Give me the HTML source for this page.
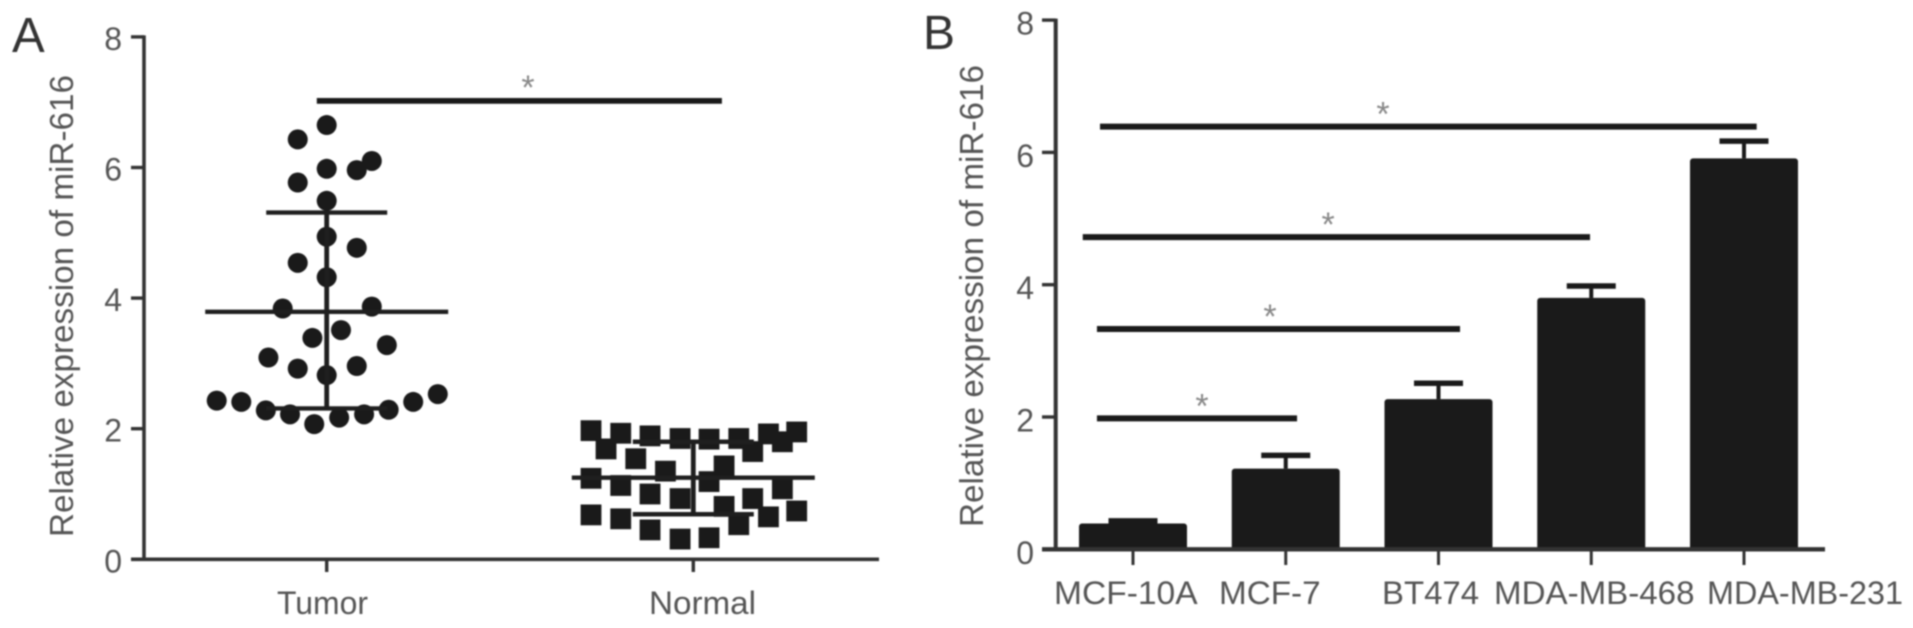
<!DOCTYPE html>
<html lang="en">
<head>
<meta charset="utf-8">
<title>Relative expression of miR-616</title>
<style>
html,body{margin:0;padding:0;background:#fff;width:1913px;height:628px;overflow:hidden}
svg{display:block;filter:blur(0.75px)}
text{font-family:"Liberation Sans",sans-serif;fill:#555}
</style>
</head>
<body>
<svg id="chart" xmlns="http://www.w3.org/2000/svg" width="1913" height="628" viewBox="0 0 1913 628">
  <rect x="0" y="0" width="1913" height="628" fill="#fff"/>
  <text x="12" y="52" font-size="49" style="fill:#333">A</text>
  <text x="923" y="49" font-size="48" style="fill:#333">B</text>
  <text transform="translate(73,306) rotate(-90)" text-anchor="middle" font-size="33" textLength="462" lengthAdjust="spacingAndGlyphs">Relative expression of miR-616</text>
  <text transform="translate(983,296) rotate(-90)" text-anchor="middle" font-size="33" textLength="462" lengthAdjust="spacingAndGlyphs">Relative expression of miR-616</text>
  <g id="panelA"></g>
  <g id="panelB"></g>
</svg>
<script>
// ---------- Panel A data ----------
const yTicksA = [0, 2, 4, 6, 8];
const groupsA = ['Tumor', 'Normal'];
const tumorValues = [6.65,6.43,5.98,5.96,6.10,5.77,5.49,4.94,4.77,4.54,4.32,3.84,3.87,3.51,3.39,3.28,3.09,2.92,2.96,2.82,2.43,2.41,2.28,2.22,2.07,2.17,2.22,2.29,2.41,2.53];
const tumorJitter = [0,-0.079,0,0.082,0.123,-0.079,0,0,0.082,-0.079,0,-0.120,0.123,0.039,-0.039,0.164,-0.159,-0.079,0.082,0,-0.300,-0.233,-0.166,-0.100,-0.034,0.034,0.102,0.169,0.236,0.303];
const normalValues = [1.97,1.93,1.89,1.85,1.84,1.85,1.92,1.95,1.69,1.54,1.65,1.80,1.43,1.35,1.24,1.13,1.19,1.00,0.93,1.08,0.93,0.81,0.68,0.62,0.74,0.65,0.53,0.45,0.31,0.33];
const normalJitter = [-0.279,-0.198,-0.118,-0.036,0.043,0.124,0.205,0.282,-0.238,-0.157,0.162,0.243,0.084,-0.076,-0.279,-0.198,0.043,-0.118,-0.036,0.243,0.162,0.084,-0.279,-0.198,0.282,0.205,0.124,-0.118,-0.036,0.043];
const meansA = [3.79, 1.25];
const sdUpperA = [5.31, 1.80];
const sdLowerA = [2.31, 0.69];

// ---------- Panel B data ----------
const yTicksB = [0, 2, 4, 6, 8];
const cellLines = ['MCF-10A', 'MCF-7', 'BT474', 'MDA-MB-468', 'MDA-MB-231'];
const barValues = [0.39, 1.22, 2.27, 3.80, 5.91];
const errorTops = [0.43, 1.42, 2.51, 3.98, 6.17];
const sigLevelsB = [1.98, 3.33, 4.72, 6.39];
const sigStartB = [0.764, 0.764, 0.671, 0.784];
const sigEndB = [2.074, 3.141, 3.992, 5.083];
const sigStarB = [1.452, 1.897, 2.277, 2.637];

const svgNS = 'http://www.w3.org/2000/svg';
const panelA = document.getElementById('panelA');
const panelB = document.getElementById('panelB');

// axis functions
const yA = v => 559.3 - 65.3 * v;
const xA = c => 326.7 + 366.6 * (c - 1);
const yB = v => 549.3 - 66.15 * v;
const xB = c => 1133 + 152.75 * (c - 1);

function make(parent, tag, props, content) {
  const el = document.createElementNS(svgNS, tag);
  for (const k in props) el.setAttribute(k, props[k]);
  if (content !== undefined) el.textContent = content;
  parent.appendChild(el);
  return el;
}
function line(parent, x1, y1, x2, y2, w, color) {
  return make(parent, 'line', {x1, y1, x2, y2, stroke: color, 'stroke-width': w});
}

// ---------- Panel A axes ----------
let el = line(panelA, 144, yA(8) - 1.5, 144, yA(0) + 1.5, 3.6, '#333');


el = line(panelA, 131, yA(0), 879, yA(0), 3.6, '#333');


yTicksA.forEach(t => {
  let tick = line(panelA, 131, yA(t), 144, yA(t), 3.4, '#333');
  
  
  let lab = make(panelA, 'text', {x: 122, y: yA(t) + 13, 'text-anchor': 'end', 'font-size': 32}, String(t));
  
  
});
const labelBoxA = [[277, 91], [649, 107]];
groupsA.forEach((g, i) => {
  let tick = line(panelA, xA(i + 1), yA(0), xA(i + 1), 572, 3.4, '#333');
  
  
  let lab = make(panelA, 'text', {x: labelBoxA[i][0], y: 614, 'font-size': 32, textLength: labelBoxA[i][1], lengthAdjust: 'spacingAndGlyphs'}, g);
  
  
});

// ---------- Panel A points ----------
tumorValues.forEach((v, i) => {
  const c = make(panelA, 'circle', {cx: xA(1 + tumorJitter[i]), cy: yA(v), r: 10, fill: '#1a1a1a'});
  
  
});
normalValues.forEach((v, i) => {
  const cx = xA(2 + normalJitter[i]);
  const cy = yA(v);
  const s = make(panelA, 'rect', {x: cx - 10.4, y: cy - 10.4, width: 20.8, height: 20.8, fill: '#1a1a1a'});
  
  
});

// ---------- Panel A mean and SD ----------
meansA.forEach((m, i) => {
  const c = i + 1;
  let l = line(panelA, xA(c) - 121.5, yA(m), xA(c) + 121.5, yA(m), 4.4, '#1f1f1f');
  
  
  l = line(panelA, xA(c), yA(sdUpperA[i]), xA(c), yA(sdLowerA[i]), 4.8, '#1f1f1f');
  
  
  l = line(panelA, xA(c) - 60.5, yA(sdUpperA[i]), xA(c) + 60.5, yA(sdUpperA[i]), 4.4, '#1f1f1f');
  
  
  l = line(panelA, xA(c) - 60.5, yA(sdLowerA[i]), xA(c) + 60.5, yA(sdLowerA[i]), 4.4, '#1f1f1f');
  
  
});

// ---------- Panel A significance ----------
el = line(panelA, xA(0.973), yA(7.02), xA(2.078), yA(7.02), 5.8, '#1a1a1a');


el = make(panelA, 'text', {x: xA(1.549), y: yA(7.02) - 2, 'text-anchor': 'middle', 'font-size': 34, style: 'fill:#888'}, '*');



// ---------- Panel B bars ----------
barValues.forEach((v, i) => {
  const c = i + 1;
  let w = line(panelB, xB(c), yB(errorTops[i]), xB(c), yB(v), 4, '#1a1a1a');
  
  
  w = line(panelB, xB(c) - 24.5, yB(errorTops[i]), xB(c) + 24.5, yB(errorTops[i]), 5.5, '#1a1a1a');
  
  
  const b = make(panelB, 'rect', {x: xB(c) - 54, y: yB(v), width: 108, height: yB(0) - yB(v) + 1, rx: 3, fill: '#1a1a1a'});
  
  
});

// ---------- Panel B axes ----------
el = line(panelB, 1055.7, yB(8) - 1.5, 1055.7, yB(0) + 2, 4, '#333');


el = line(panelB, 1042, yB(0), 1825, yB(0), 4.4, '#333');


yTicksB.forEach(t => {
  let tick = line(panelB, 1042, yB(t), 1055.7, yB(t), 3.4, '#333');
  
  
  let lab = make(panelB, 'text', {x: 1034, y: yB(t) + 14.5, 'text-anchor': 'end', 'font-size': 32}, String(t));
  
  
});
const labelBoxB = [[1054, 143.6], [1219, 101.6], [1382, 97], [1494, 200.5], [1707, 196]];
cellLines.forEach((name, i) => {
  let tick = line(panelB, xB(i + 1), yB(0), xB(i + 1), 565, 3, '#333');
  
  
  let lab = make(panelB, 'text', {x: labelBoxB[i][0], y: 604, 'font-size': 32, textLength: labelBoxB[i][1], lengthAdjust: 'spacingAndGlyphs'}, name);
  
  
});

// ---------- Panel B significance ----------
sigLevelsB.forEach((lvl, i) => {
  let s = line(panelB, xB(sigStartB[i]), yB(lvl), xB(sigEndB[i]), yB(lvl), 6, '#1a1a1a');
  
  
  let st = make(panelB, 'text', {x: xB(sigStarB[i]), y: yB(lvl) - 1, 'text-anchor': 'middle', 'font-size': 34, style: 'fill:#888'}, '*');
  
  
});
</script>
</body>
</html>
